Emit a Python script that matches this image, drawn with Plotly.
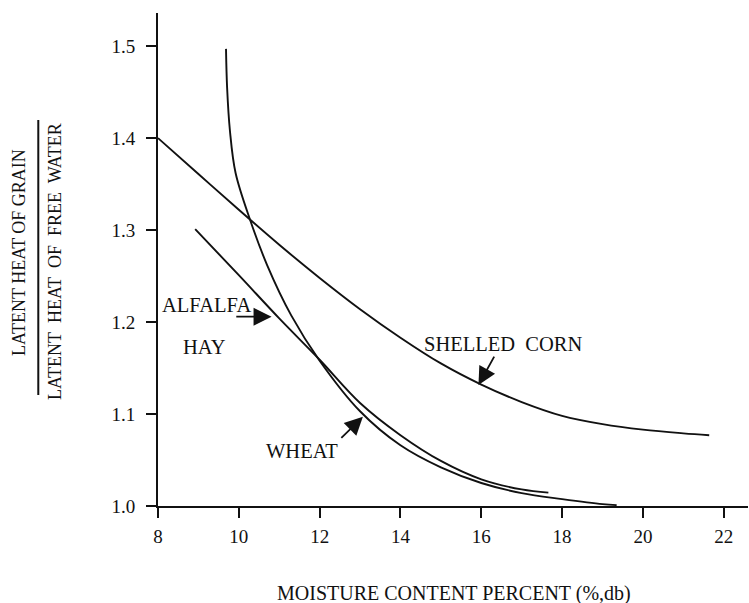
import plotly.graph_objects as go

# ---- data ----
corn_x = [8.0, 9.0, 10.0, 11.0, 12.0, 13.0, 14.0, 15.0, 16.0, 17.0, 18.0, 19.0, 20.0, 21.0, 21.64]
corn_y = [1.400, 1.361, 1.322, 1.284, 1.248, 1.214, 1.183, 1.155, 1.132, 1.113, 1.098, 1.089, 1.083, 1.079, 1.077]

wheat_x = [9.683, 9.71, 9.78, 9.92, 10.28, 10.70, 11.30, 12.0, 13.0, 14.0, 15.0, 16.0, 17.0, 18.0, 19.0, 19.35]
wheat_y = [1.497, 1.455, 1.408, 1.362, 1.311, 1.262, 1.207, 1.158, 1.103, 1.066, 1.042, 1.025, 1.014, 1.0075, 1.002, 1.001]

alfalfa_x = [8.92, 10.0, 11.0, 12.0, 13.0, 14.0, 15.0, 16.0, 17.0, 17.66]
alfalfa_y = [1.301, 1.251, 1.204, 1.159, 1.112, 1.077, 1.049, 1.029, 1.018, 1.0145]

x_ticks = [8, 10, 12, 14, 16, 18, 20, 22]
y_ticks = [1.0, 1.1, 1.2, 1.3, 1.4, 1.5]
y_tick_labels = ["1.0", "1.1", "1.2", "1.3", "1.4", "1.5"]

FONT = "Liberation Serif, Times New Roman, serif"
INK = "#111111"
NB = "\u00a0"

fig = go.Figure()
for xs, ys in [(corn_x, corn_y), (wheat_x, wheat_y), (alfalfa_x, alfalfa_y)]:
    fig.add_trace(go.Scatter(x=xs, y=ys, mode="lines",
                             line=dict(color=INK, width=1.9, shape="spline", smoothing=1.0),
                             showlegend=False, hoverinfo="skip"))

# curve labels
labels = [
    ("ALFALFA", 9.20, 1.2185),
    ("HAY", 9.16, 1.173),
    ("WHEAT", 11.56, 1.060),
    ("SHELLED" + NB + " CORN", 16.56, 1.176),
]
for t, x, y in labels:
    fig.add_annotation(x=x, y=y, text=t, showarrow=False,
                       font=dict(family=FONT, size=20.5, color=INK))

# arrows (tip, tail)
arrows = [
    (10.81, 1.2058, 9.90, 1.2058),
    (13.07, 1.097, 12.50, 1.0725),
    (15.93, 1.1315, 16.34, 1.164),
]
for x, y, ax, ay in arrows:
    fig.add_annotation(x=x, y=y, ax=ax, ay=ay, xref="x", yref="y", axref="x", ayref="y",
                       text="", showarrow=True, arrowhead=2, arrowsize=2.0,
                       arrowwidth=1.8, arrowcolor=INK)

# y-axis title as a fraction
fig.add_annotation(xref="paper", yref="paper", x=-0.2356, y=0.5152, xanchor="center", yanchor="middle",
                   text="LATENT HEAT OF GRAIN",
                   textangle=-90, showarrow=False, font=dict(family=FONT, size=18, color=INK))
fig.add_annotation(xref="paper", yref="paper", x=-0.1746, y=0.497, xanchor="center", yanchor="middle",
                   text="LATENT" + NB + " HEAT" + NB + " OF" + NB + " FREE" + NB + " WATER",
                   textangle=-90, showarrow=False, font=dict(family=FONT, size=18, color=INK))
fig.add_shape(type="line", xref="paper", yref="paper", x0=-0.2029, x1=-0.2029, y0=0.2252, y1=0.783,
              line=dict(color=INK, width=2))
# x-axis title
fig.add_annotation(xref="paper", yref="paper", x=0.502, y=-0.1765, xanchor="center", yanchor="middle",
                   text="MOISTURE CONTENT PERCENT (%,db)",
                   showarrow=False, font=dict(family=FONT, size=20, color=INK))

fig.update_xaxes(range=[8, 22.60], tickvals=x_ticks, ticks="outside", ticklen=10, tickwidth=2,
                 tickcolor=INK, showline=True, linecolor=INK, linewidth=2, showgrid=False,
                 zeroline=False, tickfont=dict(family=FONT, size=19, color=INK), ticklabelstandoff=2)
fig.update_yaxes(range=[1.0, 1.536], tickvals=y_ticks, ticktext=y_tick_labels, ticks="outside",
                 ticklen=10, tickwidth=2, tickcolor=INK, showline=True, linecolor=INK, linewidth=2,
                 showgrid=False, zeroline=False, tickfont=dict(family=FONT, size=19, color=INK),
                 ticklabelstandoff=7)

fig.update_layout(width=749, height=603, margin=dict(l=158, r=1, t=13, b=97),
                  paper_bgcolor="white", plot_bgcolor="white")

fig.write_html("out.html")
